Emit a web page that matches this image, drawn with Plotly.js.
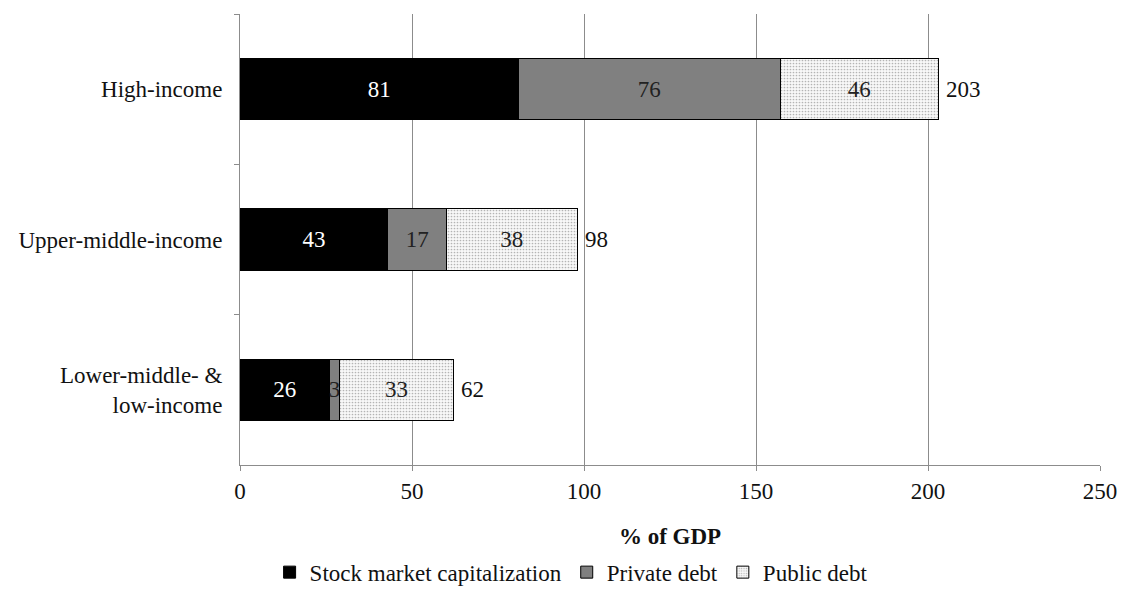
<!DOCTYPE html>
<html><head><meta charset="utf-8">
<script src="https://cdn.plot.ly/plotly-3.0.1.min.js"></script>
<style>html,body{margin:0;padding:0;background:#fff}#chart{width:1128px;height:589px}</style>
</head><body><div id="chart"></div>
<script>
const categories = ["High-income", "Upper-middle-income", "Lower-middle- &<br>low-income"];
const stockMarket = [81, 43, 26];
const privateDebt = [76, 17, 3];
const publicDebt = [46, 38, 33];
const totals = [203, 98, 62];
const xTicks = [0, 50, 100, 150, 200, 250];

const FONT = "Liberation Serif";
const FS = 23;
const common = {type: 'bar', orientation: 'h', y: categories, textposition: 'inside',
  insidetextanchor: 'middle', constraintext: 'none', hoverinfo: 'skip', cliponaxis: false};

const traces = [
  Object.assign({}, common, {name: 'Stock market capitalization', x: stockMarket,
    text: stockMarket.map(String), marker: {color: '#000000', line: {color: '#000', width: 1}},
    insidetextfont: {color: '#ffffff', size: FS, family: FONT}}),
  Object.assign({}, common, {name: 'Private debt', x: privateDebt,
    text: privateDebt.map(String), marker: {color: '#808080', line: {color: '#000', width: 1}},
    insidetextfont: {color: '#222', size: FS, family: FONT}}),
  Object.assign({}, common, {name: 'Public debt', x: publicDebt,
    text: publicDebt.map(String),
    marker: {color: '#ffffff', line: {color: '#000', width: 1},
      pattern: {shape: '.', fgcolor: '#b4b4b4', bgcolor: '#f8f8f8', size: 3, solidity: 0.25}},
    insidetextfont: {color: '#222', size: FS, family: FONT}})
];

const annotations = totals.map((t, i) => ({x: t, y: categories[i], xref: 'x', yref: 'y',
  text: String(t), showarrow: false, xanchor: 'left', xshift: 6,
  font: {size: FS, family: FONT, color: '#111'}}));

const layout = {
  width: 1128, height: 589,
  margin: {l: 240, r: 28, t: 14, b: 124, autoexpand: false},
  barmode: 'stack', bargap: 0.59,
  paper_bgcolor: '#fff', plot_bgcolor: '#fff',
  font: {family: FONT, size: FS, color: '#111'},
  annotations: annotations,
  xaxis: {range: [0, 250], tickvals: xTicks, ticktext: xTicks.map(String),
    showgrid: true, gridcolor: '#8c8c8c', gridwidth: 1, zeroline: false,
    showline: true, linecolor: '#8c8c8c', ticks: 'outside', ticklen: 5, tickcolor: '#8c8c8c',
    tickfont: {size: FS, family: FONT}, ticklabelstandoff: 0, automargin: false,
    title: {text: '<b>% of GDP</b>', font: {size: FS, family: FONT}, standoff: 25}},
  yaxis: {autorange: 'reversed', type: 'category', showline: true, linecolor: '#8c8c8c',
    ticks: 'outside', tickson: 'boundaries', ticklen: 5, tickcolor: '#8c8c8c', automargin: false,
    showgrid: false, tickfont: {size: FS, family: FONT}, ticklabelstandoff: 12},
  legend: {orientation: 'h', x: 0.385, xanchor: 'center', yref: 'paper', y: -0.19, yanchor: 'top',
    font: {size: FS, family: FONT}, traceorder: 'normal', itemwidth: 30},
  showlegend: true
};

Plotly.newPlot('chart', traces, layout, {displayModeBar: false, staticPlot: true});
</script></body></html>
